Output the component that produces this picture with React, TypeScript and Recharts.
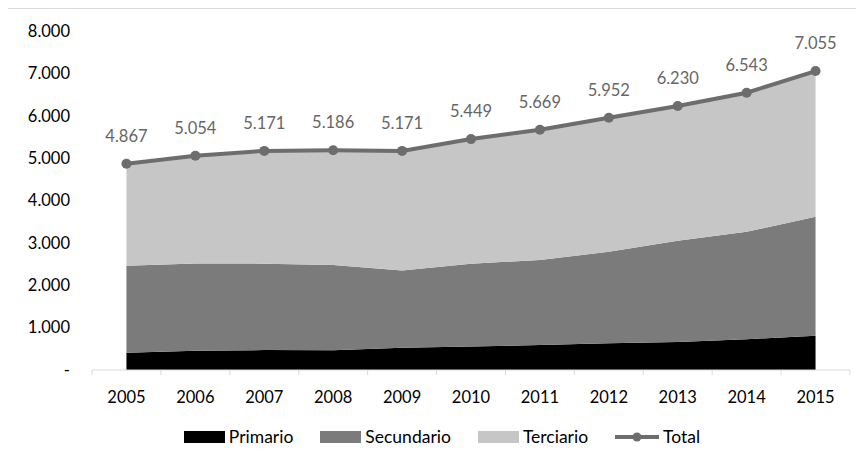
import React from "react";
import {
  ComposedChart,
  Area,
  Line,
  XAxis,
  YAxis,
  Legend,
  LabelList,
} from "recharts";

const years = [2005, 2006, 2007, 2008, 2009, 2010, 2011, 2012, 2013, 2014, 2015];
const primario = [410, 455, 470, 465, 525, 555, 590, 630, 660, 725, 810];
const secundario = [2050, 2060, 2040, 2010, 1825, 1955, 2005, 2160, 2390, 2535, 2805];
const total = [4867, 5054, 5171, 5186, 5171, 5449, 5669, 5952, 6230, 6543, 7055];
const yTicks = [0, 1000, 2000, 3000, 4000, 5000, 6000, 7000, 8000];

const data = years.map((year, i) => ({
  year,
  primario: primario[i],
  secundario: secundario[i],
  terciario: total[i] - primario[i] - secundario[i],
  total: total[i],
}));

// ticks at the year centres (labels) and at the boundaries between years (tick marks)
const xTicks: number[] = [];
years.forEach((y) => {
  xTicks.push(y - 0.5, y);
});
xTicks.push(years[years.length - 1] + 0.5);

const FONT = "Lato, 'Noto Sans', sans-serif";
const TICK_MARGIN = 21;
const fmt = (v: number) => (v === 0 ? "-" : v.toLocaleString("de-DE"));

const XTick = (props: any) => {
  const { x, y, payload } = props;
  const v = payload.value as number;
  if (!Number.isInteger(v)) {
    const y0 = y - TICK_MARGIN;
    return <line x1={x} x2={x} y1={y0} y2={y0 + 5} stroke="#d9d9d9" strokeWidth={1} />;
  }
  return (
    <text x={x} y={y} dy="0.71em" textAnchor="middle" fill="#000" fontSize={16.5} fontFamily={FONT}>
      {v}
    </text>
  );
};

const legendItems = [
  { name: "Primario", color: "#000000", kind: "box" },
  { name: "Secundario", color: "#7b7b7b", kind: "box" },
  { name: "Terciario", color: "#c6c6c6", kind: "box" },
  { name: "Total", color: "#6d6d6d", kind: "line" },
];

const LegendContent = () => (
  <div
    style={{
      display: "flex",
      justifyContent: "center",
      alignItems: "center",
      gap: 27,
      paddingTop: 4,
      paddingLeft: 26,
      height: 49,
      fontFamily: FONT,
      fontSize: 17.5,
      color: "#000",
      boxSizing: "border-box",
    }}
  >
    {legendItems.map((it) => (
      <div key={it.name} style={{ display: "flex", alignItems: "center", gap: 4 }}>
        {it.kind === "box" ? (
          <svg width={41} height={12}>
            <rect x={0} y={0} width={41} height={12} fill={it.color} />
          </svg>
        ) : (
          <svg width={44} height={12}>
            <line x1={0} x2={44} y1={6} y2={6} stroke={it.color} strokeWidth={4} />
            <circle cx={22} cy={6} r={4.5} fill={it.color} />
          </svg>
        )}
        <span>{it.name}</span>
      </div>
    ))}
  </div>
);

export default function App() {
  return (
    <div
      style={{
        marginLeft: -1,
        width: 870,
        height: 460,
        borderTop: "1px solid #d9d9d9",
        borderLeft: "1px solid #d9d9d9",
        background: "#fff",
      }}
    >
      <ComposedChart
        width={860}
        height={450}
        data={data}
        margin={{ top: 22, right: 18, left: 0, bottom: 0 }}
      >
        <XAxis
          dataKey="year"
          type="number"
          domain={[2004.5, 2015.5]}
          ticks={xTicks}
          interval={0}
          tick={<XTick />}
          tickLine={false}
          tickSize={0}
          tickMargin={TICK_MARGIN}
          axisLine={{ stroke: "#d9d9d9" }}
          height={40}
        />
        <YAxis
          domain={[0, 8000]}
          ticks={yTicks}
          tickFormatter={fmt}
          axisLine={false}
          tickLine={false}
          tickSize={0}
          tickMargin={22}
          width={84}
          tick={{ fill: "#000", fontSize: 16.5, fontFamily: FONT }}
        />
        <Legend verticalAlign="bottom" content={<LegendContent />} />
        <Area
          type="linear"
          dataKey="primario"
          stackId="1"
          fill="#000000"
          fillOpacity={1}
          stroke="none"
          isAnimationActive={false}
        />
        <Area
          type="linear"
          dataKey="secundario"
          stackId="1"
          fill="#7b7b7b"
          fillOpacity={1}
          stroke="none"
          isAnimationActive={false}
        />
        <Area
          type="linear"
          dataKey="terciario"
          stackId="1"
          fill="#c6c6c6"
          fillOpacity={1}
          stroke="none"
          isAnimationActive={false}
        />
        <Line
          type="linear"
          dataKey="total"
          stroke="#6d6d6d"
          strokeWidth={4}
          dot={{ r: 5, fill: "#6d6d6d", stroke: "none" }}
          activeDot={false}
          isAnimationActive={false}
        >
          <LabelList
            dataKey="total"
            position="top"
            offset={22}
            formatter={(v: any) => fmt(Number(v))}
            fill="#666"
            fontSize={16.5}
            fontFamily={FONT}
          />
        </Line>
      </ComposedChart>
    </div>
  );
}
